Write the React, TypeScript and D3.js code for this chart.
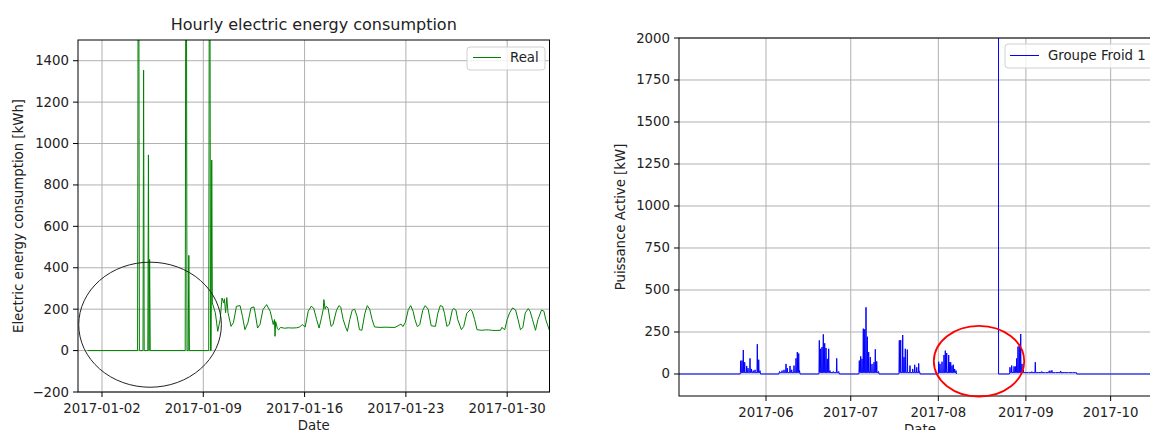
import React from "react";
import * as d3 from "d3";

// ---------- Left chart data: hourly electric energy consumption (hours since 2017-01-01 00:00 UTC) ----------
const realHours = [
  0, 83, 84, 85, 86, 92, 93, 94, 100, 101, 102, 103, 104, 162, 163, 164, 165, 167, 168, 169,
  201, 202, 203, 204, 205, 206, 207,
  212, 216, 220, 223, 226, 227, 229, 231, 233, 238,
  242, 247, 253, 257, 261, 266, 271, 276, 278, 282,
  286, 291, 297, 303, 308, 310, 311, 312, 315, 317,
  320, 327, 333, 339, 347, 352, 356, 361, 366, 371,
  375, 380, 384, 388, 391, 392, 394, 396, 399, 402,
  404, 407, 413, 417, 420, 424, 428, 431, 435, 439,
  443, 447, 451, 455, 460, 464, 468, 472, 476, 485,
  495, 505, 510, 518, 520, 523, 527, 532, 536, 540,
  543, 547, 551, 556, 560, 565, 570, 577, 581, 585,
  589, 592, 596, 600, 605, 607, 611, 614, 620, 624,
  629, 635, 638, 642, 646, 654, 660, 665, 670, 676,
  685, 687, 692, 696, 700, 705, 710, 714, 718, 722,
  726, 731, 734, 738, 743, 747, 753, 757, 760, 766,
  767,
];
const realKWh = [
  0, 0, 2000, 2000, 0, 0, 1355, 0, 0, 945, 0, 440, 0, 0, 2000, 2000, 0, 0, 460, 0,
  0, 2000, 2000, 0, 0, 920, 230,
  182, 93, 150, 254, 230, 250, 183, 256, 183, 117,
  135, 214, 217, 166, 101, 134, 206, 211, 182, 109,
  126, 198, 222, 190, 126, 150, 69, 140, 105, 100,
  112, 108, 110, 109, 110, 114, 126, 114, 190, 214,
  205, 150, 109, 158, 200, 246, 200, 214, 205, 150,
  117, 125, 195, 217, 210, 150, 114, 93, 150, 195,
  200, 166, 101, 98, 180, 217, 200, 150, 114, 112,
  113, 112, 112, 125, 128, 116, 135, 198, 217, 190,
  150, 116, 125, 195, 217, 200, 120, 117, 180, 217,
  213, 180, 117, 126, 196, 203, 196, 150, 101, 117,
  180, 198, 190, 150, 101, 98, 100, 100, 98, 97,
  98, 112, 101, 150, 182, 206, 196, 150, 101, 112,
  182, 203, 190, 150, 98, 150, 196, 190, 150, 98,
  100,
];
const leftXTicks = ["2017-01-02", "2017-01-09", "2017-01-16", "2017-01-23", "2017-01-30"];
const leftYTicks = [-200, 0, 200, 400, 600, 800, 1000, 1200, 1400];

// ---------- Right chart data: Groupe Froid 1 active power (days since 2017-05-01 00:00 UTC) ----------
const froidSpikeDay = [
  22.04, 22.5, 22.96, 23.46, 24.17, 24.63, 25.34, 25.87, 26.5, 27.11, 27.92, 28.42, 28.88,
  35.78, 36.66, 37.37, 38.08, 38.54, 39.5, 40.1, 40.91, 41.62, 42.08, 42.58, 42.86,
  49.87, 50.36, 50.82, 51.28, 51.78, 52.24, 52.7, 53.19, 53.65, 54.82, 56.03, 56.73,
  64.03, 64.52, 64.98, 65.44, 65.94, 66.4, 66.86, 67.35, 67.92, 68.52, 69.23, 69.69, 70.19, 70.82,
  78.19, 78.68, 79.39, 79.85, 80.31, 81.02, 81.97, 82.93, 83.64, 84.35, 85.05, 85.34,
  92.13, 92.59, 93.3, 94.01, 94.47, 94.96, 95.67, 95.88, 96.38, 96.84, 97.3, 97.79, 98.26,
  117.37, 117.97, 118.79, 119.25, 119.74, 120.2, 120.66, 121.16, 121.62, 122.08,
  122.6, 123.9, 125.1, 126.33, 127.5, 128.6, 129.8, 131.0, 131.5, 132.2, 133.4, 134.5, 135.3, 136.8, 138.0, 139.5, 140.8,
];
const froidSpikeKW = [
  79, 80, 143, 70, 48, 35, 93, 30, 20, 25, 177, 85, 20,
  15, 20, 25, 60, 35, 48, 25, 50, 93, 131, 122, 20,
  200, 150, 160, 236, 183, 155, 90, 150, 20, 15, 93, 15,
  80, 105, 90, 270, 266, 397, 222, 130, 100, 60, 70, 147, 75, 15,
  200, 202, 232, 100, 150, 145, 50, 30, 55, 40, 63, 15,
  73, 60, 73, 113, 139, 125, 113, 70, 70, 50, 55, 30, 20,
  40, 50, 45, 45, 93, 163, 173, 238, 60, 25,
  12, 10, 14, 70, 12, 15, 10, 14, 20, 22, 10, 12, 18, 12, 10, 8, 8,
];
const froidBaseKW = 8; // running level between daily peaks
const froidGapDays = [98.5, 113.3]; // missing data
const froidRestartKW = 2600; // first value after the gap (off the chart)
const froidEndDay = 174;
const rightXTicks = ["2017-06", "2017-07", "2017-08", "2017-09", "2017-10"];
const rightYTicks = [0, 250, 500, 750, 1000, 1250, 1500, 1750, 2000];

const FONT = "DejaVu Sans, Verdana, sans-serif";
const HOUR = 3600e3;
const DAY = 86400e3;

function fmtNum(v: number) {
  return v < 0 ? "\u2212" + Math.abs(v) : String(v);
}

export default function App() {
  const W = 1150;
  const H = 430;
  const L = { left: 78, right: 549.5, top: 40, bottom: 392 };
  const R = { left: 679, right: 1168, top: 38, bottom: 396 };

  const t0 = Date.UTC(2017, 0, 1);
  const xL = d3
    .scaleUtc()
    .domain([new Date(t0 - 15.8 * HOUR), new Date(t0 + 766.2 * HOUR)])
    .range([L.left, L.right]);
  const yL = d3.scaleLinear().domain([-200, 1500]).range([L.bottom, L.top]);

  const f0 = Date.UTC(2017, 4, 1);
  const xR = d3
    .scaleUtc()
    .domain([new Date(f0 + 0.2 * DAY), new Date(f0 + 173.3 * DAY)])
    .range([R.left, R.right]);
  const yR = d3.scaleLinear().domain([-131, 2000]).range([R.bottom, R.top]);

  // left series
  const realPts = realHours.map((h, i) => ({ t: new Date(t0 + h * HOUR), v: realKWh[i] }));
  const lineL = d3
    .line<{ t: Date; v: number }>()
    .x((d) => xL(d.t))
    .y((d) => yL(d.v));

  // right series: daily peaks joined through the running base, zero between active periods
  type P = { d: number; v: number };
  let pts: P[] = [{ d: 0, v: 0 }];
  froidSpikeDay.forEach((d, i) => {
    const prev = i > 0 ? froidSpikeDay[i - 1] : -Infinity;
    if (d - prev > 2) {
      if (i > 0) pts.push({ d: prev + 0.2, v: 0 });
      pts.push({ d: d - 0.2, v: 0 });
    }
    pts.push({ d: d - 0.12, v: froidBaseKW });
    pts.push({ d, v: froidSpikeKW[i] });
    pts.push({ d: d + 0.12, v: froidBaseKW });
  });
  pts.push({ d: froidSpikeDay[froidSpikeDay.length - 1] + 0.2, v: 0 });
  pts.push({ d: froidEndDay, v: 0 });
  pts = pts.filter((p) => p.d <= froidGapDays[0] || p.d >= froidGapDays[1]);
  pts.push({ d: froidGapDays[0] + 0.01, v: NaN });
  pts.push({ d: froidGapDays[1], v: froidRestartKW });
  pts.push({ d: froidGapDays[1] + 0.02, v: 0 });
  pts.sort((a, b) => a.d - b.d);
  const lineR = d3
    .line<P>()
    .defined((p) => !isNaN(p.v))
    .x((p) => xR(new Date(f0 + p.d * DAY)))
    .y((p) => yR(p.v));

  const leftTickDates = leftXTicks.map((s) => new Date(s + "T00:00:00Z"));
  const rightTickDates = rightXTicks.map((s) => new Date(s + "-01T00:00:00Z"));

  // annotation ellipses (in data units)
  const circC = { t: new Date(t0 + 103.7 * HOUR), v: 125 };
  const circRx = xL(new Date(t0 + (103.7 + 118.3) * HOUR)) - xL(circC.t);
  const circRy = yL(0) - yL(302);
  const redC = { t: new Date(f0 + 106.4 * DAY), v: 76 };
  const redRx = xR(new Date(f0 + (106.4 + 16.0) * DAY)) - xR(redC.t);
  const redRy = yR(0) - yR(210);

  const grid = "#b0b0b0";
  const fs = 13.3;

  return (
    <svg
      width={W}
      height={H}
      viewBox={`0 0 ${W} ${H}`}
      style={{ position: "absolute", left: 0, top: 0, background: "#fff" }}
      fontFamily={FONT}
    >
      <defs>
        <clipPath id="clipL">
          <rect x={L.left} y={L.top} width={L.right - L.left} height={L.bottom - L.top} />
        </clipPath>
        <clipPath id="clipR">
          <rect x={R.left} y={R.top} width={R.right - R.left} height={R.bottom - R.top} />
        </clipPath>
      </defs>
      <rect x={0} y={0} width={W} height={H} fill="#fff" />

      {/* ---------------- LEFT CHART ---------------- */}
      <g>
        {leftYTicks.map((v) => (
          <line key={"gy" + v} x1={L.left} x2={L.right} y1={yL(v)} y2={yL(v)} stroke={grid} strokeWidth={1} />
        ))}
        {leftTickDates.map((d, i) => (
          <line key={"gx" + i} x1={xL(d)} x2={xL(d)} y1={L.top} y2={L.bottom} stroke={grid} strokeWidth={1} />
        ))}
        <path d={lineL(realPts) || ""} fill="none" stroke="green" strokeWidth={1} clipPath="url(#clipL)" />
        <rect x={L.left} y={L.top} width={L.right - L.left} height={L.bottom - L.top} fill="none" stroke="#000" strokeWidth={1} />
        {leftYTicks.map((v) => (
          <g key={"ty" + v}>
            <line x1={L.left - 5} x2={L.left} y1={yL(v)} y2={yL(v)} stroke="#000" strokeWidth={1} />
            <text x={L.left - 9} y={yL(v)} fontSize={fs} textAnchor="end" dominantBaseline="central" fill="#222">
              {fmtNum(v)}
            </text>
          </g>
        ))}
        {leftTickDates.map((d, i) => (
          <g key={"tx" + i}>
            <line x1={xL(d)} x2={xL(d)} y1={L.bottom} y2={L.bottom + 5} stroke="#000" strokeWidth={1} />
            <text x={xL(d)} y={L.bottom + 16} fontSize={fs} textAnchor="middle" dominantBaseline="central" fill="#222">
              {leftXTicks[i]}
            </text>
          </g>
        ))}
        <text x={(L.left + L.right) / 2} y={30} fontSize={16} textAnchor="middle" fill="#222">
          Hourly electric energy consumption
        </text>
        <text x={(L.left + L.right) / 2} y={425} fontSize={fs} textAnchor="middle" dominantBaseline="central" fill="#222">
          Date
        </text>
        <text
          transform={`translate(18,${(L.top + L.bottom) / 2}) rotate(-90)`}
          fontSize={fs}
          textAnchor="middle"
          dominantBaseline="central"
          fill="#222"
        >
          Electric energy consumption [kWh]
        </text>
        {/* legend */}
        <rect x={467} y={47} width={78} height={23} rx={3} fill="#fff" fillOpacity={0.8} stroke="#d0d0d0" strokeWidth={1} />
        <line x1={473} x2={501} y1={57.5} y2={57.5} stroke="green" strokeWidth={1} />
        <text x={510} y={57.5} fontSize={fs} dominantBaseline="central" fill="#222">
          Real
        </text>
        {/* annotation */}
        <ellipse cx={xL(circC.t)} cy={yL(circC.v)} rx={circRx} ry={circRy} fill="none" stroke="#222" strokeWidth={1} />
      </g>

      {/* ---------------- RIGHT CHART ---------------- */}
      <g>
        {rightYTicks.map((v) => (
          <line key={"rgy" + v} x1={R.left} x2={R.right} y1={yR(v)} y2={yR(v)} stroke={grid} strokeWidth={1} />
        ))}
        {rightTickDates.map((d, i) => (
          <line key={"rgx" + i} x1={xR(d)} x2={xR(d)} y1={R.top} y2={R.bottom} stroke={grid} strokeWidth={1} />
        ))}
        <path d={lineR(pts) || ""} fill="none" stroke="blue" strokeWidth={1} clipPath="url(#clipR)" />
        <rect x={R.left} y={R.top} width={R.right - R.left} height={R.bottom - R.top} fill="none" stroke="#000" strokeWidth={1} />
        {rightYTicks.map((v) => (
          <g key={"rty" + v}>
            <line x1={R.left - 5} x2={R.left} y1={yR(v)} y2={yR(v)} stroke="#000" strokeWidth={1} />
            <text x={R.left - 9} y={yR(v)} fontSize={fs} textAnchor="end" dominantBaseline="central" fill="#222">
              {fmtNum(v)}
            </text>
          </g>
        ))}
        {rightTickDates.map((d, i) => (
          <g key={"rtx" + i}>
            <line x1={xR(d)} x2={xR(d)} y1={R.bottom} y2={R.bottom + 5} stroke="#000" strokeWidth={1} />
            <text x={xR(d)} y={R.bottom + 16} fontSize={fs} textAnchor="middle" dominantBaseline="central" fill="#222">
              {rightXTicks[i]}
            </text>
          </g>
        ))}
        <text x={920} y={429} fontSize={fs} textAnchor="middle" dominantBaseline="central" fill="#222">
          Date
        </text>
        <text
          transform={`translate(620,${(R.top + R.bottom) / 2}) rotate(-90)`}
          fontSize={fs}
          textAnchor="middle"
          dominantBaseline="central"
          fill="#222"
        >
          Puissance Active [kW]
        </text>
        {/* legend */}
        <rect x={1005} y={44} width={170} height={24} rx={3} fill="#fff" fillOpacity={0.8} stroke="#d0d0d0" strokeWidth={1} />
        <line x1={1010} x2={1039} y1={55.5} y2={55.5} stroke="blue" strokeWidth={1} />
        <text x={1048} y={55.5} fontSize={fs} dominantBaseline="central" fill="#222">
          Groupe Froid 1
        </text>
        {/* annotation */}
        <ellipse cx={xR(redC.t)} cy={yR(redC.v)} rx={redRx} ry={redRy} fill="none" stroke="red" strokeWidth={1.8} />
      </g>
    </svg>
  );
}
